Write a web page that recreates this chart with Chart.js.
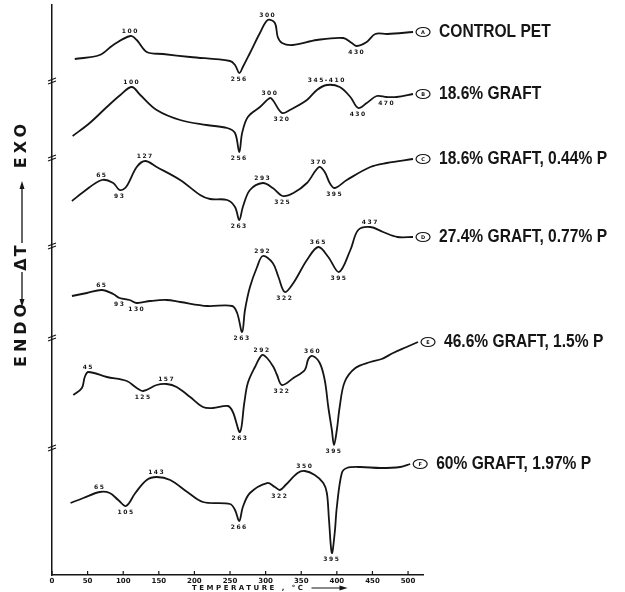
<!DOCTYPE html>
<html>
<head>
<meta charset="utf-8">
<script src="https://cdn.jsdelivr.net/npm/chart.js@4"></script>
<style>
body { margin: 0; background: #fff; }
</style>
</head>
<body>
<canvas id="myChart" width="625" height="592"></canvas>
<script>
// temperatures (deg C) and delta T readings (arbitrary units, curves stacked as drawn)
var tempA = [32, 67, 86, 110, 119, 133, 156, 194, 250, 257, 263, 268, 278, 292, 303, 313, 317, 323, 338, 372, 409, 421, 428, 442, 454, 471, 507]
var dtA = [516, 520, 530, 539, 535, 523, 521, 518, 514, 510, 502, 508, 522, 542, 555, 552, 538, 532, 530, 535, 537, 532, 529, 533, 541, 541, 543]

var tempB = [29, 53, 77, 96, 112, 124, 147, 180, 217, 246, 257, 263, 267, 275, 292, 306, 310, 323, 334, 358, 372, 386, 404, 419, 430, 442, 456, 470, 484, 507]
var dtB = [439, 452, 468, 480, 488, 480, 465, 455, 450, 447, 442, 423, 442, 458, 468, 477, 475, 462, 465, 475, 485, 490, 488, 478, 467, 472, 479, 478, 478, 481]

var tempC = [28, 44, 70, 86, 95, 104, 119, 131, 147, 180, 208, 222, 246, 257, 263, 268, 278, 296, 310, 324, 339, 358, 375, 383, 390, 397, 414, 447, 470, 507]
var dtC = [374, 383, 395, 392, 385, 388, 408, 414, 408, 395, 380, 376, 375, 368, 355, 368, 385, 392, 387, 379, 382, 392, 408, 403, 392, 387, 395, 408, 412, 416]

var tempD = [28, 49, 70, 86, 95, 109, 119, 138, 161, 180, 218, 253, 260, 267, 271, 278, 288, 296, 310, 318, 327, 339, 358, 374, 388, 403, 419, 430, 447, 465, 485, 507]
var dtD = [279, 282, 285, 281, 277, 275, 272, 274, 275, 273, 269, 269, 262, 243, 265, 288, 308, 319, 312, 298, 283, 292, 315, 328, 318, 303, 325, 345, 348, 343, 338, 338]

var tempE = [30, 42, 46, 51, 77, 105, 119, 128, 147, 161, 175, 194, 212, 226, 247, 254, 264, 270, 275, 285, 295, 302, 311, 316, 323, 339, 355, 360, 366, 376, 383, 388, 393, 396, 400, 404, 411, 426, 447, 463, 479, 498, 514]
var dtE = [180, 187, 198, 203, 198, 194, 187, 184, 190, 191, 188, 178, 168, 167, 169, 163, 143, 172, 192, 208, 220, 217, 208, 200, 190, 197, 205, 216, 219, 212, 195, 168, 145, 130, 145, 168, 193, 207, 213, 216, 222, 228, 233]

var tempF = [26, 44, 67, 81, 93, 104, 117, 133, 147, 166, 190, 212, 250, 257, 263, 268, 278, 302, 313, 320, 328, 345, 355, 369, 381, 386, 389, 393, 397, 400, 407, 414, 433, 461, 489, 503]
var dtF = [72, 77, 83, 82, 75, 69, 82, 95, 98, 95, 83, 73, 71, 65, 54, 68, 82, 92, 88, 85, 90, 102, 104, 100, 92, 82, 55, 22, 42, 68, 102, 107, 108, 107, 108, 111]

// peak annotations: [temperature of the drawn point, label, 1 = above / -1 = below]
var peaksA = [[110, '100', 1], [263, '256', -1], [303, '300', 1], [428, '430', -1]]
var peaksB = [[112, '100', 1], [263, '256', -1], [306, '300', 1], [323, '320', -1], [386, '345-410', 1], [430, '430', -1], [470, '470', -1]]
var peaksC = [[70, '65', 1], [95, '93', -1], [131, '127', 1], [263, '263', -1], [296, '293', 1], [324, '325', -1], [375, '370', 1], [397, '395', -1]]
var peaksD = [[70, '65', 1], [95, '93', -1], [119, '130', -1], [267, '263', -1], [296, '292', 1], [327, '322', -1], [374, '365', 1], [403, '395', -1], [447, '437', 1]]
var peaksE = [[51, '45', 1], [128, '125', -1], [161, '157', 1], [264, '263', -1], [295, '292', 1], [323, '322', -1], [366, '360', 1], [396, '395', -1]]
var peaksF = [[67, '65', 1], [104, '105', -1], [147, '143', 1], [263, '266', -1], [320, '322', -1], [355, '350', 1], [393, '395', -1]]

var letters = ['A', 'B', 'C', 'D', 'E', 'F']
var names = ['CONTROL PET', '18.6% GRAFT', '18.6% GRAFT, 0.44% P', '27.4% GRAFT, 0.77% P', '46.6% GRAFT, 1.5% P', '60% GRAFT, 1.97% P']
var breaks = [495, 418, 330, 238, 128]

var temps = [tempA, tempB, tempC, tempD, tempE, tempF]
var dts = [dtA, dtB, dtC, dtD, dtE, dtF]
var peaks = [peaksA, peaksB, peaksC, peaksD, peaksE, peaksF]

function makeData(t, d) {
    let pts = []
    for (var i = 0; i < t.length; i++) {
        pts.push({x: t[i], y: d[i]})
    }
    return pts
}

var datasets = []
for (var i = 0; i < temps.length; i++) {
    datasets.push({
        label: letters[i],
        data: makeData(temps[i], dts[i]),
        borderColor: '#151515',
        borderWidth: 1.8,
        pointRadius: 0,
        fill: false,
        tension: 0.35
    })
}

var decor = {
    id: 'decor',
    afterDraw: function (chart) {
        let ctx = chart.ctx
        let xs = chart.scales.x
        let ys = chart.scales.y
        let area = chart.chartArea
        ctx.save()
        ctx.strokeStyle = '#151515'
        ctx.fillStyle = '#151515'
        ctx.lineWidth = 1.2

        xs.ticks.forEach(function (t) {
            let px = xs.getPixelForValue(t.value)
            ctx.beginPath()
            ctx.moveTo(px, area.bottom)
            ctx.lineTo(px, area.bottom - 4)
            ctx.stroke()
        })

        breaks.forEach(function (b) {
            let py = ys.getPixelForValue(b)
            for (var k = 0; k < 2; k++) {
                ctx.beginPath()
                ctx.moveTo(area.left - 4, py + 1 + k * 3)
                ctx.lineTo(area.left + 4, py - 2 + k * 3)
                ctx.stroke()
            }
        })

        // peak temperatures
        ctx.font = 'bold 6px "DejaVu Sans"'
        ctx.letterSpacing = '1.5px'
        ctx.textAlign = 'center'
        for (var i = 0; i < peaks.length; i++) {
            let meta = chart.getDatasetMeta(i)
            peaks[i].forEach(function (p) {
                let idx = temps[i].indexOf(p[0])
                let el = meta.data[idx]
                if (p[2] > 0) {
                    ctx.textBaseline = 'bottom'
                    ctx.fillText(p[1], el.x, el.y - 2)
                } else {
                    ctx.textBaseline = 'top'
                    ctx.fillText(p[1], el.x, el.y + 3)
                }
            })
        }

        // sample markers and names
        for (var i = 0; i < names.length; i++) {
            let meta = chart.getDatasetMeta(i)
            let last = meta.data[meta.data.length - 1]
            ctx.lineWidth = 1.2
            ctx.beginPath()
            ctx.ellipse(last.x + 10, last.y, 7, 4.5, 0, 0, Math.PI * 2)
            ctx.stroke()
            ctx.font = 'bold 5px "DejaVu Sans"'
            ctx.letterSpacing = '0px'
            ctx.textAlign = 'center'
            ctx.textBaseline = 'middle'
            ctx.fillText(letters[i], last.x + 10, last.y + 0.5)
            ctx.save()
            ctx.translate(last.x + 26, last.y)
            ctx.scale(0.82, 1)
            ctx.font = 'bold 19px "Liberation Sans"'
            ctx.textAlign = 'left'
            ctx.fillText(names[i], 0, 0)
            ctx.restore()
        }

        // x axis title
        ctx.font = 'bold 7px "DejaVu Sans"'
        ctx.letterSpacing = '2.5px'
        ctx.textAlign = 'left'
        ctx.textBaseline = 'middle'
        ctx.fillText('TEMPERATURE , \u00B0C', 192, 588)
        let tx = 192 + ctx.measureText('TEMPERATURE , \u00B0C').width + 6
        ctx.lineWidth = 1.2
        ctx.beginPath()
        ctx.moveTo(tx, 588)
        ctx.lineTo(tx + 32, 588)
        ctx.stroke()
        ctx.beginPath()
        ctx.moveTo(tx + 36, 588)
        ctx.lineTo(tx + 28, 585.5)
        ctx.lineTo(tx + 28, 590.5)
        ctx.closePath()
        ctx.fill()

        // y axis title, rotated
        ctx.translate(22, 0)
        ctx.rotate(-Math.PI / 2)
        ctx.font = 'bold 16px "DejaVu Sans"'
        ctx.letterSpacing = '4px'
        ctx.textBaseline = 'middle'
        ctx.textAlign = 'left'
        ctx.fillText('ENDO', -367, 0)
        ctx.textAlign = 'center'
        ctx.letterSpacing = '2px'
        ctx.fillText('\u0394T', -257, 0)
        ctx.textAlign = 'right'
        ctx.letterSpacing = '4px'
        ctx.fillText('EXO', -120, 0)
        ctx.lineWidth = 1.3
        ctx.beginPath()
        ctx.moveTo(-303, 0)
        ctx.lineTo(-272, 0)
        ctx.moveTo(-243, 0)
        ctx.lineTo(-186, 0)
        ctx.stroke()
        ctx.beginPath()
        ctx.moveTo(-307, 0)
        ctx.lineTo(-299, -2.5)
        ctx.lineTo(-299, 2.5)
        ctx.closePath()
        ctx.fill()
        ctx.beginPath()
        ctx.moveTo(-181, 0)
        ctx.lineTo(-189, -2.5)
        ctx.lineTo(-189, 2.5)
        ctx.closePath()
        ctx.fill()
        ctx.restore()
    }
}

var ctx = document.getElementById('myChart').getContext('2d')
var myChart = new Chart(ctx, {
    type: 'line',
    data: {datasets: datasets},
    options: {
        responsive: false,
        animation: false,
        layout: {padding: {top: 5, right: 202, bottom: 0, left: 0}},
        plugins: {legend: {display: false}, tooltip: {enabled: false}},
        scales: {
            x: {
                type: 'linear',
                min: 0,
                max: 521,
                border: {display: true, color: '#151515', width: 1.5},
                grid: {display: false, drawTicks: false},
                ticks: {
                    stepSize: 50,
                    includeBounds: false,
                    padding: 2,
                    maxRotation: 0,
                    color: '#151515',
                    font: {family: 'DejaVu Sans', size: 7, weight: 'bold'}
                },
                afterFit: function (scale) { scale.height = 17 }
            },
            y: {
                min: 0,
                max: 570,
                border: {display: true, color: '#151515', width: 1.5},
                grid: {display: false},
                ticks: {display: false},
                afterFit: function (scale) { scale.width = 52 }
            }
        }
    },
    plugins: [decor]
})
</script>
</body>
</html>
